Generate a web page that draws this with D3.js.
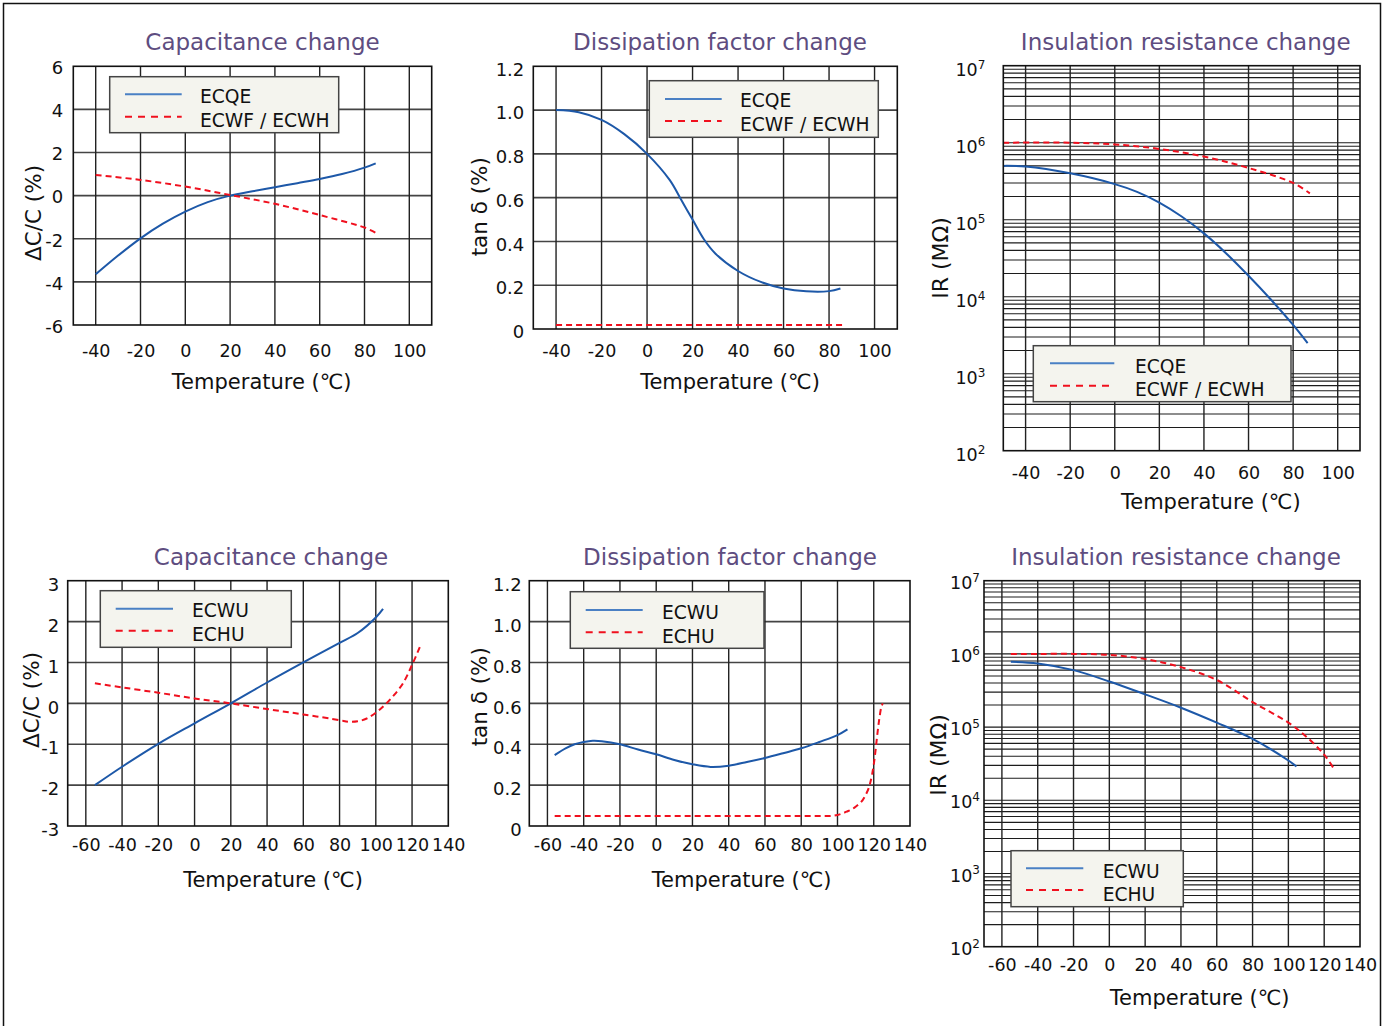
<!DOCTYPE html>
<html><head><meta charset="utf-8">
<script src="https://cdn.jsdelivr.net/npm/d3@7"></script>
<style>
body{margin:0;background:#fff}
svg{display:block}
text{font-family:"DejaVu Sans",Verdana,sans-serif;fill:#111}
</style>
</head><body>
<svg id="c" width="1387" height="1026"></svg>
<script>
// ---------------- DATA ----------------
const xTicksTop = [-40, -20, 0, 20, 40, 60, 80, 100];
const xTicksBottom = [-60, -40, -20, 0, 20, 40, 60, 80, 100, 120, 140];
const capTicksTop = [-6, -4, -2, 0, 2, 4, 6];
const capTicksBottom = [-3, -2, -1, 0, 1, 2, 3];
const dfTicks = [0, 0.2, 0.4, 0.6, 0.8, 1.0, 1.2];
const dfTickLabels = ["0", "0.2", "0.4", "0.6", "0.8", "1.0", "1.2"];
const irExponents = [2, 3, 4, 5, 6, 7];
const seriesTop = ["ECQE", "ECWF / ECWH"];
const seriesBottom = ["ECWU", "ECHU"];
const titles = ["Capacitance change", "Dissipation factor change", "Insulation resistance change"];

// Top-left: capacitance change (%)
const capEcqeT = [-40, -30, -20, -10, 0, 10, 20, 30, 40, 50, 60, 70, 80, 85];
const capEcqeV = [-3.65, -2.78, -1.98, -1.3, -0.74, -0.3, 0, 0.2, 0.39, 0.58, 0.77, 1.0, 1.3, 1.5];
const capEcwfT = [-40, -20, 0, 20, 40, 60, 80, 85];
const capEcwfV = [0.96, 0.73, 0.42, 0.03, -0.38, -0.9, -1.48, -1.72];

// Top-middle: dissipation factor (%)
const dfEcqeT = [-40, -30, -20, -10, 0, 10, 15, 20, 25, 30, 40, 50, 60, 70, 80, 85];
const dfEcqeV = [1.0, 0.99, 0.955, 0.89, 0.80, 0.68, 0.59, 0.50, 0.41, 0.345, 0.265, 0.215, 0.185, 0.172, 0.173, 0.185];
const dfEcwfT = [-40, 87];
const dfEcwfV = [0.018, 0.018];

// Top-right: insulation resistance (MOhm)
const irEcqeT = [-50, -40, -20, 0, 10, 20, 30, 40, 50, 60, 70, 80, 86.5];
const irEcqeV = [5.0e5, 4.9e5, 4.0e5, 2.9e5, 2.3e5, 1.67e5, 1.1e5, 6.64e4, 3.65e4, 1.87e4, 9.2e3, 4.3e3, 2.5e3];
const irEcwfT = [-50, -20, 0, 20, 40, 60, 80, 87.5];
const irEcwfV = [1.0e6, 1.0e6, 0.95e6, 8.3e5, 6.6e5, 4.7e5, 3.0e5, 2.2e5];

// Bottom-left: capacitance change (%)
const capEcwuT = [-55, -40, -20, 0, 20, 40, 60, 80, 90, 100, 104];
const capEcwuV = [-2.0, -1.55, -0.99, -0.49, 0, 0.51, 1.0, 1.48, 1.72, 2.1, 2.31];
const capEchuT = [-55, -40, -20, 0, 20, 40, 60, 80, 85, 90, 95, 100, 105, 110, 115, 120, 124.5];
const capEchuV = [0.49, 0.39, 0.26, 0.12, 0, -0.14, -0.27, -0.41, -0.45, -0.44, -0.37, -0.23, -0.04, 0.2, 0.49, 0.94, 1.40];

// Bottom-middle: dissipation factor (%)
const dfEcwuT = [-56, -50, -45, -40, -35, -30, -20, -10, 0, 10, 20, 30, 40, 50, 60, 70, 80, 90, 100, 105.5];
const dfEcwuV = [0.347, 0.38, 0.40, 0.411, 0.417, 0.415, 0.40, 0.374, 0.351, 0.323, 0.302, 0.289, 0.295, 0.313, 0.333, 0.356, 0.38, 0.411, 0.445, 0.473];
const dfEchuT = [-56, 95, 100, 105, 110, 115, 118, 120, 121, 122, 123, 124, 125];
const dfEchuV = [0.049, 0.049, 0.054, 0.07, 0.094, 0.143, 0.209, 0.30, 0.37, 0.45, 0.52, 0.575, 0.60];

// Bottom-right: insulation resistance (MOhm)
const irEcwuT = [-55, -40, -20, 0, 20, 40, 60, 80, 100, 104.5];
const irEcwuV = [7.8e5, 7.4e5, 6.0e5, 4.2e5, 2.8e5, 1.84e5, 1.15e5, 6.9e4, 3.5e4, 2.9e4];
const irEchuT = [-55, -40, -20, 0, 20, 40, 60, 80, 100, 110, 120, 125];
const irEchuV = [1.0e6, 1.0e6, 1.0e6, 9.7e5, 8.5e5, 6.6e5, 4.4e5, 2.2e5, 1.15e5, 7.4e4, 4.2e4, 2.8e4];

// ---------------- LAYOUT / STYLE ----------------
const BLUE = "#1d58a8", BLUE_LEG = "#4a80c4", RED = "#f0101e", TITLE = "#5e4d80";
const svg = d3.select("#c");

// outer frame (left, top, right)
svg.append("path").attr("d", "M3.5,1040V3.5H1380.5V1040")
  .attr("fill", "none").attr("stroke", "#111").attr("stroke-width", 1.5);

const zip = (t, v) => t.map((d, i) => ({x: d, y: v[i]}));

const panels = [
  {box: [73.3, 66.3, 431.7, 325], xDom: [-50, 110], xTicks: xTicksTop, yType: "lin", yDom: [-6, 6],
   yTicks: capTicksTop, yFmt: d => String(d), fs: 17.5, xPad: 20, yPad: 10, yDy: 1.5,
   title: [titles[0], 262.5, 42], yLab: ["ΔC/C (%)", 33, 213], xLab: [261.7, 381.5],
   leg: [109.7, 76.7, 338.7, 132.7, 125, 181.7, 94.3, 116.7, 200, 96.5, 120], names: seriesTop,
   s: [zip(capEcqeT, capEcqeV), zip(capEcwfT, capEcwfV)], steep: false},
  {box: [533.3, 66.3, 897.3, 329], xDom: [-50, 110], xTicks: xTicksTop, yType: "lin", yDom: [0, 1.2],
   yTicks: dfTicks, yFmt: (d, i) => dfTickLabels[i], fs: 17.5, xPad: 16, yPad: 9, yDy: 3,
   title: [titles[1], 720, 42], yLab: ["tan δ (%)", 479.3, 206.7], xLab: [730, 381.5],
   leg: [649.3, 80.7, 878.3, 137.3, 665, 721.7, 99, 121, 740, 100.5, 124], names: seriesTop,
   s: [zip(dfEcqeT, dfEcqeV), zip(dfEcwfT, dfEcwfV)], steep: false},
  {box: [1003.3, 65.7, 1360, 450.7], xDom: [-50, 110], xTicks: xTicksTop, yType: "log", yDom: [1e2, 1e7],
   yTicks: irExponents.map(e => Math.pow(10, e)), fs: 17.5, xPad: 15.5, yPad: 18, yDy: 4,
   title: [titles[2], 1185.7, 42], yLab: ["IR (MΩ)", 940.7, 258], xLab: [1210.8, 501.5],
   leg: [1033.3, 345.7, 1291, 401.7, 1050, 1114.3, 363.3, 385.7, 1135, 366, 389.5], names: seriesTop,
   s: [zip(irEcqeT, irEcqeV), zip(irEcwfT, irEcwfV)], steep: false},
  {box: [67.7, 580.7, 448.3, 826], xDom: [-70, 140], xTicks: xTicksBottom, yType: "lin", yDom: [-3, 3],
   yTicks: capTicksBottom, yFmt: d => String(d), fs: 17.5, xPad: 12.5, yPad: 8.4, yDy: 4,
   title: [titles[0], 271, 557.3], yLab: ["ΔC/C (%)", 31.7, 700], xLab: [273, 880],
   leg: [100.3, 590.7, 291.3, 647.3, 115.7, 173, 608.7, 630.7, 192, 610.5, 634.5], names: seriesBottom,
   s: [zip(capEcwuT, capEcwuV), zip(capEchuT, capEchuV)], steep: false},
  {box: [529.3, 580.7, 910, 826], xDom: [-70, 140], xTicks: xTicksBottom, yType: "lin", yDom: [0, 1.2],
   yTicks: dfTicks, yFmt: (d, i) => dfTickLabels[i], fs: 17.5, xPad: 12.5, yPad: 7.6, yDy: 4,
   title: [titles[1], 730, 557.3], yLab: ["tan δ (%)", 479.3, 696.7], xLab: [741.7, 880],
   leg: [570.3, 591.7, 764, 648.3, 585.7, 642.7, 610, 632.3, 662, 612.5, 636], names: seriesBottom,
   s: [zip(dfEcwuT, dfEcwuV), zip(dfEchuT, dfEchuV)], steep: true},
  {box: [984, 580.7, 1360, 946.7], xDom: [-70, 140], xTicks: xTicksBottom, yType: "log", yDom: [1e2, 1e7],
   yTicks: irExponents.map(e => Math.pow(10, e)), fs: 17.5, xPad: 12, yPad: 4, yDy: 2,
   title: [titles[2], 1176, 557.3], yLab: ["IR (MΩ)", 938.3, 755], xLab: [1199.7, 998.3],
   leg: [1011, 850.7, 1183.3, 906.7, 1026, 1083.3, 868.3, 890, 1102.7, 871, 894.5], names: seriesBottom,
   s: [zip(irEcwuT, irEcwuV), zip(irEchuT, irEchuV)], steep: false}
];

panels.forEach(p => {
  const [x0, y0, x1, y1] = p.box;
  const x = d3.scaleLinear().domain(p.xDom).range([x0, x1]);
  const y = (p.yType === "log" ? d3.scaleLog() : d3.scaleLinear()).domain(p.yDom).range([y1, y0]);
  const g = svg.append("g");

  // horizontal grid
  let hLines;
  if (p.yType === "log") {
    hLines = [];
    for (let e = 2; e < 7; e++) for (let m = 1; m <= 9; m++) hLines.push(m * Math.pow(10, e));
  } else {
    hLines = p.yTicks;
  }
  g.append("g").selectAll("line").data(hLines.filter(v => v > p.yDom[0] && v < p.yDom[1])).join("line")
    .attr("x1", x0).attr("x2", x1).attr("y1", d => y(d)).attr("y2", d => y(d))
    .attr("stroke", p.yType === "log" ? "#1c1c1c" : "#444").attr("stroke-width", p.yType === "log" ? 1.1 : 1.6);
  // vertical grid
  g.append("g").selectAll("line").data(p.xTicks.filter(v => v > p.xDom[0] && v < p.xDom[1])).join("line")
    .attr("y1", y0).attr("y2", y1).attr("x1", d => x(d)).attr("x2", d => x(d))
    .attr("stroke", "#222").attr("stroke-width", 1.4);

  // x axis labels
  const xa = g.append("g").attr("transform", `translate(0,${y1})`)
    .call(d3.axisBottom(x).tickValues(p.xTicks).tickSize(0).tickPadding(p.xPad).tickFormat(d => String(d)));
  xa.select(".domain").remove();
  xa.selectAll("text").attr("font-size", p.fs).style("fill", "#111");

  // y axis labels
  const ya = g.append("g").attr("transform", `translate(${x0},0)`)
    .call(d3.axisLeft(y).tickValues(p.yTicks).tickSize(0).tickPadding(p.yPad)
      .tickFormat(p.yType === "log" ? (() => "") : p.yFmt));
  ya.select(".domain").remove();
  ya.selectAll("text").attr("font-size", p.yType === "log" ? 17.5 : 18).style("fill", "#111")
    .attr("transform", `translate(0,${p.yDy})`);
  if (p.yType === "log") {
    ya.selectAll("text").each(function(d) {
      const t = d3.select(this);
      t.text(null);
      t.append("tspan").text("10");
      t.append("tspan").attr("font-size", 12).attr("dy", "-0.6em").text(Math.round(Math.log10(d)));
    });
  }

  // series
  const smooth = d3.line().x(d => x(d.x)).y(d => y(d.y)).curve(d3.curveCatmullRom.alpha(0.5));
  const mono = d3.line().x(d => x(d.x)).y(d => y(d.y)).curve(d3.curveMonotoneX);
  g.append("path").datum(p.s[0]).attr("d", smooth).attr("fill", "none")
    .attr("stroke", BLUE).attr("stroke-width", 2);
  g.append("path").datum(p.s[1]).attr("d", p.steep ? mono : smooth).attr("fill", "none")
    .attr("stroke", RED).attr("stroke-width", 2).attr("stroke-dasharray", "6,4");

  // legend
  const L = p.leg;
  g.append("rect").attr("x", L[0]).attr("y", L[1]).attr("width", L[2] - L[0]).attr("height", L[3] - L[1])
    .attr("fill", "#f4f4ee").attr("stroke", "#444").attr("stroke-width", 1.5);
  g.append("line").attr("x1", L[4]).attr("x2", L[5]).attr("y1", L[6]).attr("y2", L[6])
    .attr("stroke", BLUE_LEG).attr("stroke-width", 2);
  g.append("line").attr("x1", L[4]).attr("x2", L[5]).attr("y1", L[7]).attr("y2", L[7])
    .attr("stroke", RED).attr("stroke-width", 2).attr("stroke-dasharray", "7,6");
  g.append("text").attr("x", L[8]).attr("y", L[9]).attr("dominant-baseline", "central")
    .attr("font-size", 18.7).text(p.names[0]);
  g.append("text").attr("x", L[8]).attr("y", L[10]).attr("dominant-baseline", "central")
    .attr("font-size", 18.7).text(p.names[1]);

  // plot border
  g.append("rect").attr("x", x0).attr("y", y0).attr("width", x1 - x0).attr("height", y1 - y0)
    .attr("fill", "none").attr("stroke", "#111").attr("stroke-width", 1.6);

  // titles
  g.append("text").attr("x", p.title[1]).attr("y", p.title[2]).attr("text-anchor", "middle")
    .attr("dominant-baseline", "central").attr("font-size", 23).style("fill", TITLE).text(p.title[0]);
  g.append("text").attr("transform", `translate(${p.yLab[1]},${p.yLab[2]}) rotate(-90)`)
    .attr("text-anchor", "middle").attr("dominant-baseline", "central")
    .attr("font-size", p.yType === "log" ? 22 : 21.5).text(p.yLab[0]);
  g.append("text").attr("x", p.xLab[0]).attr("y", p.xLab[1]).attr("text-anchor", "middle")
    .attr("dominant-baseline", "central").attr("font-size", 21).text("Temperature (℃)");
});
</script>
</body></html>
